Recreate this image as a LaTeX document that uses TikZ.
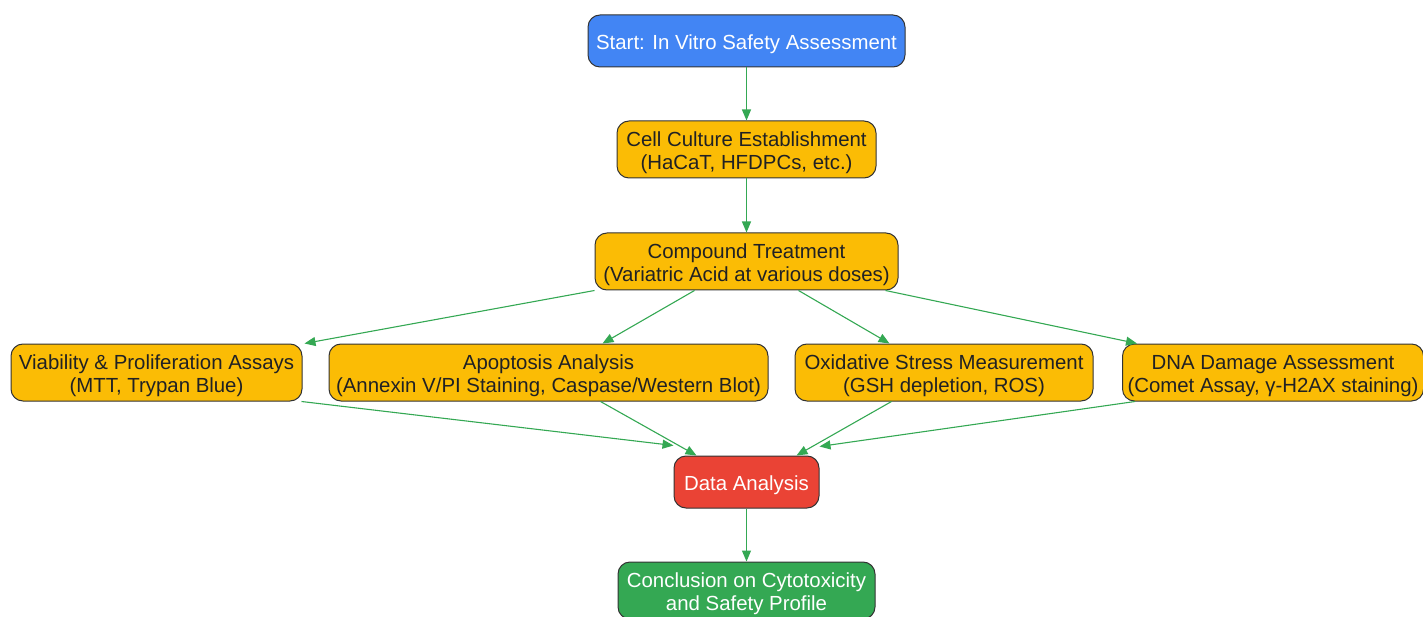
\documentclass[tikz,border=0pt]{standalone}
\usepackage{fontspec}
\setmainfont{Liberation Sans}
\usetikzlibrary{arrows.meta,calc}
\definecolor{gblue}{HTML}{4285F4}
\definecolor{gorange}{HTML}{FBBC05}
\definecolor{gred}{HTML}{EA4335}
\definecolor{ggreen}{HTML}{34A853}
\definecolor{bord}{HTML}{333333}
\definecolor{txt}{HTML}{202124}
\newcommand{\tp}{\rule{0pt}{21pt}}
\begin{document}
\begin{tikzpicture}[x=1pt,y=-1pt,
  box/.style={draw=bord,line width=1pt,rounded corners=12pt,align=center,inner sep=0pt,
    font=\fontsize{20.4}{23}\selectfont},
  obox/.style={box,fill=gorange,text=txt,minimum height=57pt},
  arr/.style={draw=ggreen,line width=1.1pt,-{Triangle[length=11pt,width=9pt]}}]
\useasboundingbox (0,0) rectangle (1423,617);
\node[box,fill=gblue,text=white,minimum width=317pt,minimum height=52pt] (start) at (746.5,41) {\tp Start: In Vitro Safety Assessment};
\node[obox,minimum width=259pt] (cell) at (746.5,149.5) {\tp Cell Culture Establishment\\(HaCaT, HFDPCs, etc.)};
\node[obox,minimum width=303pt] (comp) at (746.5,261.5) {\tp Compound Treatment\\(Variatric Acid at various doses)};
\node[obox,minimum width=291pt] (via) at (156.5,372.5) {\tp Viability \& Proliferation Assays\\(MTT, Trypan Blue)};
\node[obox,minimum width=439pt] (apo) at (548.5,372.5) {\tp Apoptosis Analysis\\(Annexin V/PI Staining, Caspase/Western Blot)};
\node[obox,minimum width=298pt] (oxi) at (944,372.5) {\tp Oxidative Stress Measurement\\(GSH depletion, ROS)};
\node[obox,minimum width=301pt] (dna) at (1273,372.5) {\tp DNA Damage Assessment\\(Comet Assay, γ-H2AX staining)};
\node[box,fill=gred,text=white,minimum width=145pt,minimum height=52pt] (data) at (746.5,482) {\tp Data Analysis};
\node[box,fill=ggreen,text=white,minimum width=257pt,minimum height=57pt] (conc) at (746.5,590.5) {\tp Conclusion on Cytotoxicity\\and Safety Profile};
\draw[arr] (start) -- (cell);
\draw[arr] (cell) -- (comp);
\draw[arr] ([xshift=0pt]comp.south west) -- ([xshift=294pt]via.north west);
\draw[arr] ([xshift=100pt]comp.south west) -- ([xshift=274pt]apo.north west);
\draw[arr] ([xshift=-100pt]comp.south east) -- ([xshift=95pt]oxi.north west);
\draw[arr] ([xshift=-13pt]comp.south east) -- ([xshift=15pt]dna.north west);
\draw[arr] ([xshift=-1pt]via.south east) -- ([yshift=10pt]data.north west);
\draw[arr] ([xshift=272pt]apo.south west) -- ([xshift=23pt]data.north west);
\draw[arr] ([xshift=97pt]oxi.south west) -- ([xshift=-23pt]data.north east);
\draw[arr] ([xshift=13pt]dna.south west) -- ([yshift=9pt]data.north east);
\draw[arr] (data) -- (conc);
\end{tikzpicture}
\end{document}
